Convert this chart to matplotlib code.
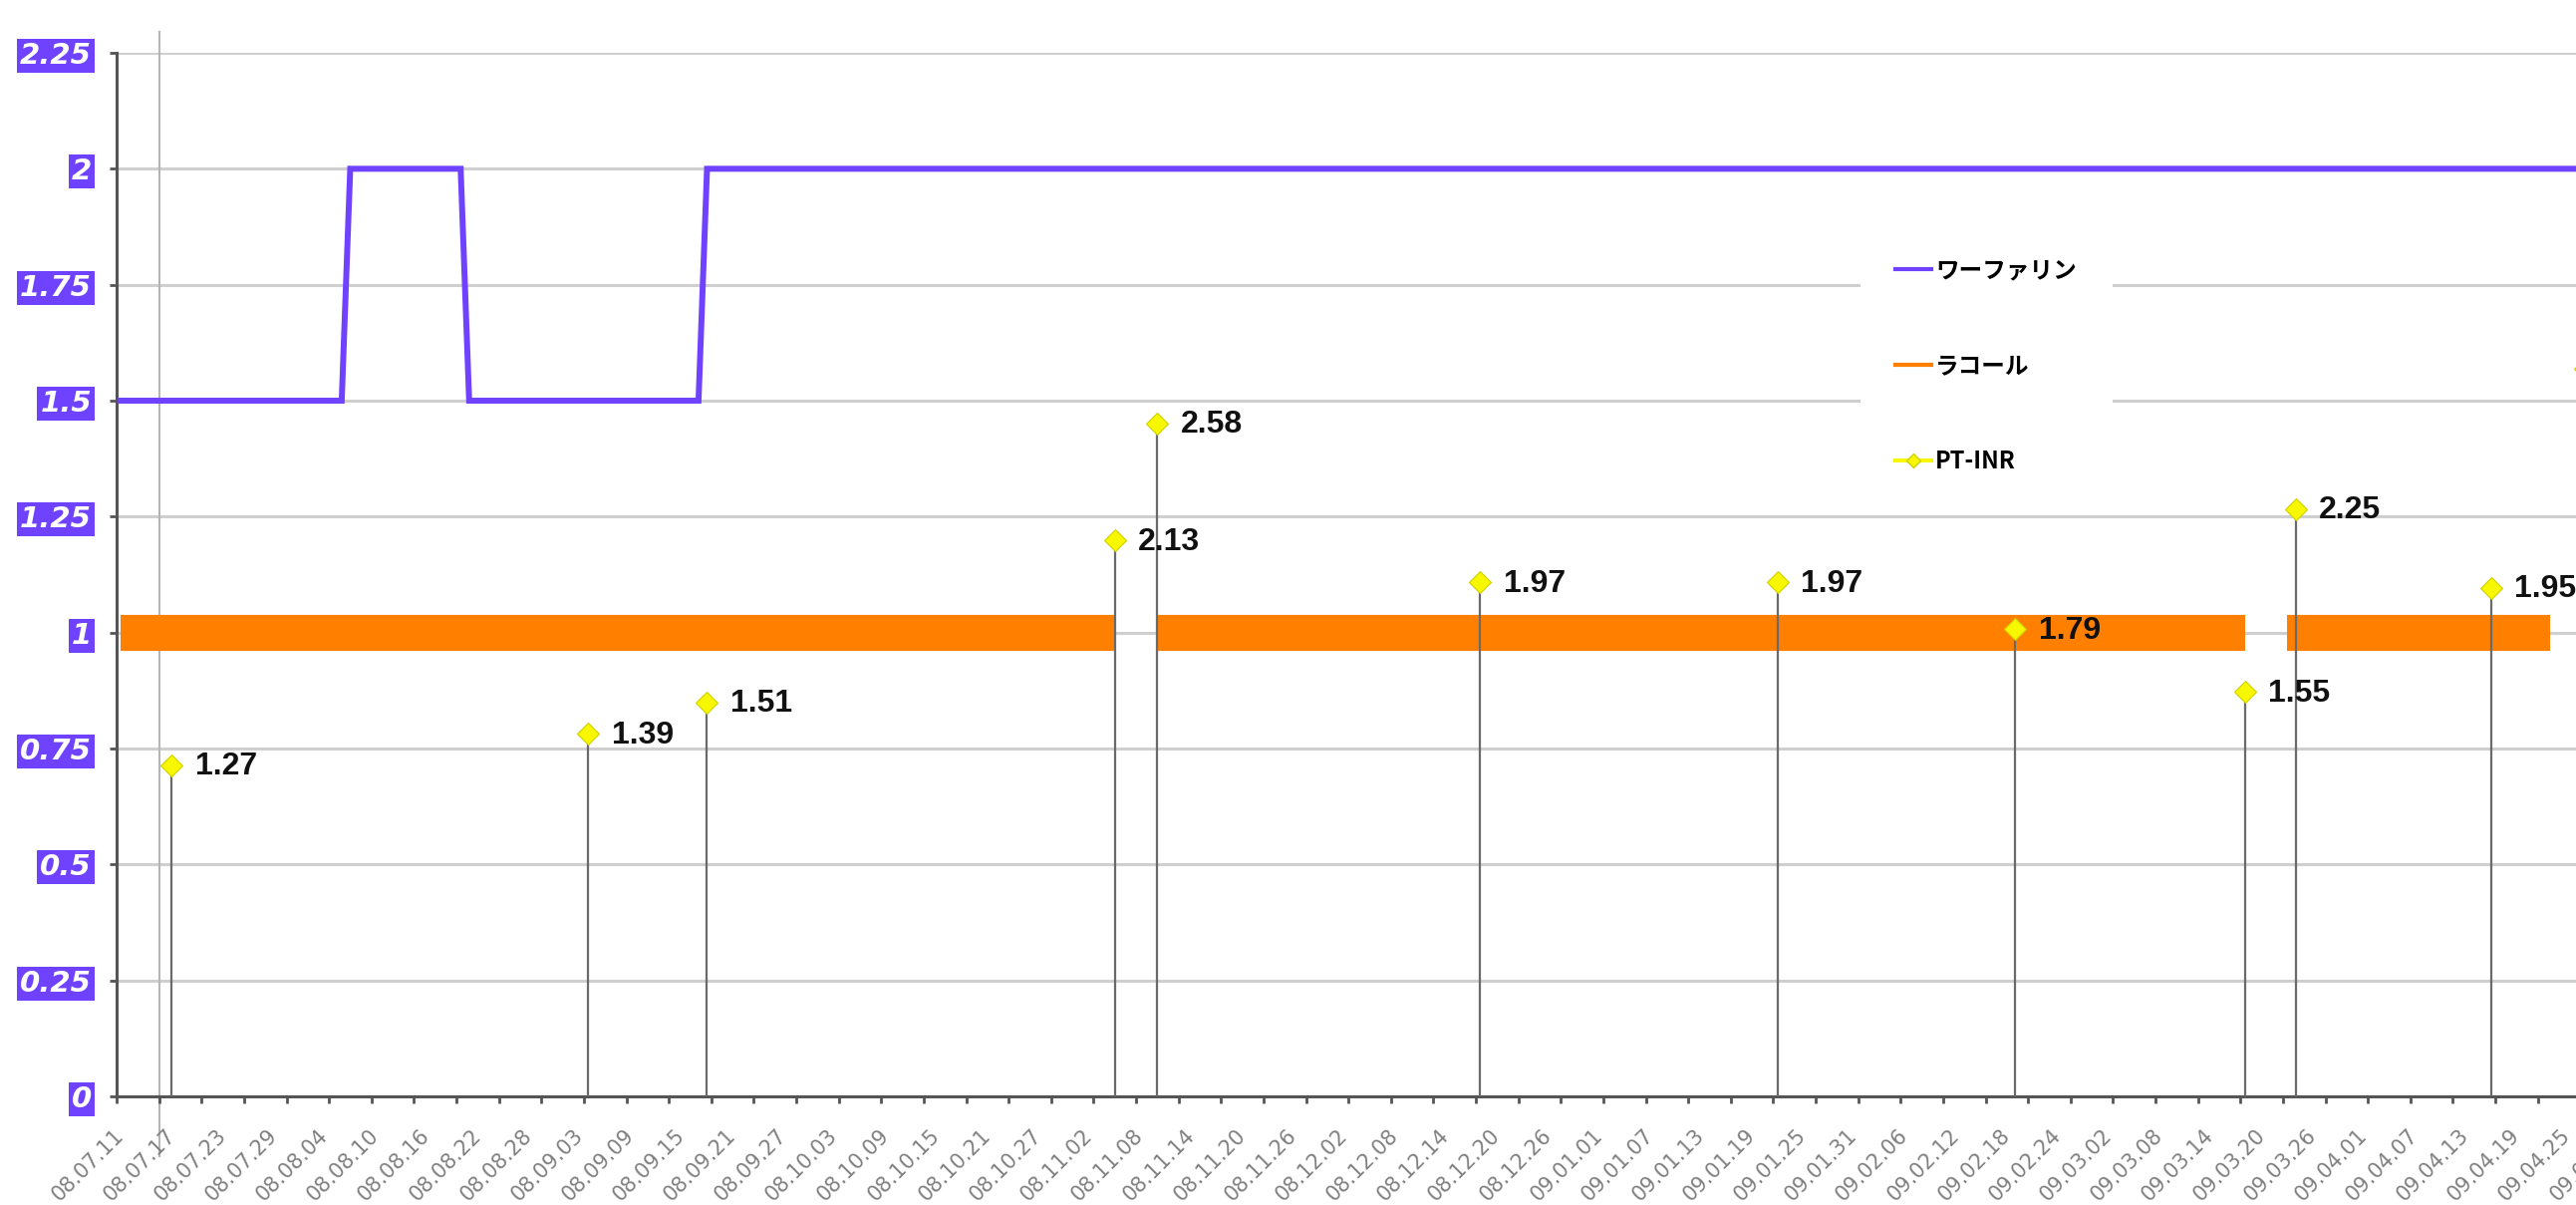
import numpy as np
import datetime
import matplotlib
matplotlib.use('Agg')
import matplotlib.pyplot as plt
from matplotlib.lines import Line2D

start = datetime.date(2008, 7, 11)

# ワーファリン (mg)
warfarin_dates = ['2008-07-11', '2008-08-06', '2008-08-07', '2008-08-20',
                  '2008-08-21', '2008-09-17', '2008-09-18', '2009-04-30']
warfarin_dose = [1.5, 1.5, 2, 2, 1.5, 1.5, 2, 2]

# ラコール periods
racol_start = ['2008-07-11', '2008-11-10', '2009-03-23']
racol_end = ['2008-11-05', '2009-03-18', '2009-04-23']
racol_level = 1

# PT-INR
inr_dates = ['2008-07-17', '2008-09-04', '2008-09-18', '2008-11-05', '2008-11-10',
             '2008-12-18', '2009-01-22', '2009-02-19', '2009-03-18', '2009-03-24',
             '2009-04-16', '2009-04-27']
inr_values = [1.27, 1.39, 1.51, 2.13, 2.58, 1.97, 1.97, 1.79, 1.55, 2.25, 1.95, 2.79]

y_ticks = [0, 0.25, 0.5, 0.75, 1, 1.25, 1.5, 1.75, 2, 2.25]
y_ticklabels = ['0', '0.25', '0.5', '0.75', '1', '1.25', '1.5', '1.75', '2', '2.25']

PURPLE = '#6f42ff'
ORANGE = '#ff8000'
YELLOW = '#f7f700'
XMAX = 289.5


def day_pos(s):
    d = datetime.date.fromisoformat(s)
    return (d - start).days + 0.5


def day_label(d):
    return (start + datetime.timedelta(days=int(d))).strftime('%y.%m.%d')


W, H = 2585, 1209
fig = plt.figure(figsize=(W / 100, H / 100), dpi=100)
left, bottom, top = 117, 1100, 53
ax = fig.add_axes([left / W, (H - bottom) / H, 1 - left / W, (bottom - top) / H])

# grid
for v in y_ticks[1:]:
    ax.axhline(v, color='#cfcfcf', lw=2.2, zorder=0)

# racol bars
for s, e in zip(racol_start, racol_end):
    ax.plot([day_pos(s), day_pos(e)], [racol_level, racol_level], color=ORANGE,
            lw=26, solid_capstyle='butt', zorder=2)

# warfarin line
ax.plot([day_pos(s) for s in warfarin_dates], warfarin_dose, color=PURPLE,
        lw=4.3, solid_joinstyle='miter', zorder=3)

# vertical reference line
ax.axvline(5, ymin=-0.057, ymax=1.02, color='#b5b5b5', lw=1.5, clip_on=False, zorder=1)

for sp in ['top', 'right']:
    ax.spines[sp].set_visible(False)
for sp in ['left', 'bottom']:
    ax.spines[sp].set_color('#555555')
    ax.spines[sp].set_linewidth(2.2)

ax.set_yticks(y_ticks)
ax.set_yticklabels(y_ticklabels, color='white', fontsize=21, fontweight='bold',
                   fontstyle='italic', family='DejaVu Sans')
ax.tick_params(axis='y', length=5, width=2, color='#555555', pad=13)
for lab in ax.get_yticklabels():
    lab.set_bbox(dict(facecolor=PURPLE, edgecolor='none', pad=2))

# x axis: minor ticks every 5 days, labels every 6 days
ax.set_xticks(np.arange(0, 290, 5), minor=True)
label_days = np.arange(0, 295, 6)
shown = label_days[label_days + 0.5 <= XMAX]
ax.set_xticks(shown + 0.5)
ax.set_xticklabels([day_label(d) for d in shown],
                   rotation=45, ha='right', va='center', rotation_mode='anchor',
                   fontsize=15, color='#808080')
ax.tick_params(axis='x', which='major', length=0, pad=26)
ax.tick_params(axis='x', which='minor', length=5, width=2, color='#555555')
# labels whose tick lies just past the cropped right edge
for d in label_days[label_days + 0.5 > XMAX]:
    ax.annotate(day_label(d), (d + 0.5, 0), xycoords=('data', 'axes fraction'),
                xytext=(0, -26), textcoords='offset points', rotation=45,
                ha='right', va='center', rotation_mode='anchor', fontsize=15,
                color='#808080', annotation_clip=False)

# PT-INR on secondary scale
ax2 = ax.twinx()
ax2.axis('off')
xi = [day_pos(s) for s in inr_dates]
ax2.vlines(xi, 0, inr_values, colors='#6a6a6a', lw=1.6, zorder=2)
ax2.plot(xi, inr_values, linestyle='none', marker='D', ms=11, mfc=YELLOW,
         mec='#d0d000', mew=0.8, zorder=4, clip_on=False)
for x, v in zip(xi, inr_values):
    ax2.annotate(f'{v:.2f}', (x, v), xytext=(17, -1), textcoords='offset points',
                 va='center', ha='left', fontsize=23, fontweight='bold',
                 family='Liberation Sans', color='#111111', zorder=5,
                 annotation_clip=True)

handles = [
    Line2D([], [], color=PURPLE, lw=3),
    Line2D([], [], color=ORANGE, lw=3),
    Line2D([], [], color=YELLOW, lw=3, marker='D', ms=7, mec='#d0d000'),
]
leg = ax2.legend(handles, ['ワーファリン', 'ラコール', 'PT-INR'],
                 loc='upper left', bbox_to_anchor=(1855 / W, 1 - 212 / H),
                 bbox_transform=fig.transFigure, frameon=True, facecolor='white',
                 edgecolor='none', framealpha=1, fancybox=False,
                 handlelength=1.5, handletextpad=0.2, labelspacing=3.05,
                 borderpad=1.5,
                 prop={'family': ['Noto Sans CJK JP', 'DejaVu Sans'],
                       'weight': 'bold', 'size': 17})
leg.set_zorder(10)

# fix limits last (twinx shares x and would autoscale)
ax.set_xlim(0, XMAX)
ax.set_ylim(0, 2.25)
ax2.set_xlim(0, XMAX)
ax2.set_ylim(0, 4)

fig.savefig('out.png', dpi=100)
